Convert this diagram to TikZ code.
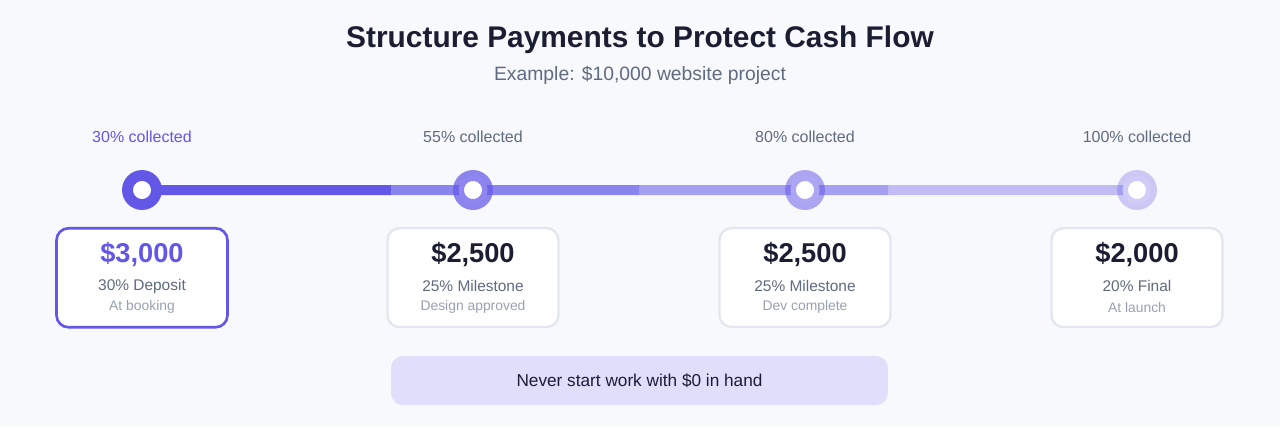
\documentclass[tikz,border=0pt]{standalone}
\usepackage{fontspec}
\setmainfont{Liberation Sans}
\usetikzlibrary{positioning, calc}
\definecolor{pagebg}{HTML}{F8F9FC}
\definecolor{accent}{HTML}{6357E8}
\definecolor{inkdark}{HTML}{1B1E33}
\definecolor{inkgray}{HTML}{5F6B80}
\definecolor{inklight}{HTML}{98A1B3}
\definecolor{cardline}{HTML}{E2E6EF}
\definecolor{bannerfill}{HTML}{E0DEFA}

\begin{document}
\begin{tikzpicture}[
  x=0.02cm, y=-0.02cm,
  dot/.style={circle, fill=white, draw=accent, draw opacity=#1, line width=6.2pt, minimum size=0.58cm, inner sep=0pt},
  bar/.style={draw=accent, draw opacity=#1, line width=5.7pt},
  card/.style={rectangle, rounded corners=6.8pt, draw=#1, fill=white, line width=1.3pt, minimum width=3.42cm, minimum height=1.98cm},
  amount/.style={font=\fontsize{15.5}{18}\selectfont\bfseries, text=#1},
  share/.style={font=\fontsize{8.8}{10}\selectfont, text=inkgray},
  when/.style={font=\fontsize{7.9}{9}\selectfont, text=inklight},
  progress/.style={font=\fontsize{9.1}{11}\selectfont, text=#1}
]
  \useasboundingbox[fill=pagebg] (0,0) rectangle (1280,427);

  % Heading
  \node[font=\fontsize{17}{20}\selectfont\bfseries, text=inkdark] (title) at (640,40) {Structure Payments to Protect Cash Flow};
  \node[font=\fontsize{11}{13}\selectfont, text=inkgray] (subtitle) at (640,75) {Example: \$10,000 website project};

  % Timeline stops
  \coordinate (d1pos) at (142,190);
  \coordinate (d4pos) at (1137,190);
  \coordinate (q1) at ($(d1pos)!0.25!(d4pos)$);
  \coordinate (q2) at ($(d1pos)!0.5!(d4pos)$);
  \coordinate (q3) at ($(d1pos)!0.75!(d4pos)$);
  \draw[bar=1] (d1pos) -- (q1);
  \draw[bar=0.72] (q1) -- (q2);
  \draw[bar=0.55] (q2) -- (q3);
  \draw[bar=0.37] (q3) -- (d4pos);

  \node[dot=1] (d1) at (d1pos) {};
  \node[dot=0.72] (d2) at (473,190) {};
  \node[dot=0.52] (d3) at (805,190) {};
  \node[dot=0.3] (d4) at (d4pos) {};

  \node[progress=accent] at ([yshift=1.06cm]d1.center) {30\% collected};
  \node[progress=inkgray] at ([yshift=1.06cm]d2.center) {55\% collected};
  \node[progress=inkgray] at ([yshift=1.06cm]d3.center) {80\% collected};
  \node[progress=inkgray] at ([yshift=1.06cm]d4.center) {100\% collected};

  % Payment cards
  \node[card=accent, line width=1.5pt, below=0.34cm of d1] (deposit) {};
  \node[amount=accent] at ([yshift=0.47cm]deposit.center) {\$3,000};
  \node[share] at ([yshift=-0.17cm]deposit.center) {30\% Deposit};
  \node[when] at ([yshift=-0.59cm]deposit.center) {At booking};

  \node[card=cardline, below=0.34cm of d2] (design) {};
  \node[amount=inkdark] at ([yshift=0.47cm]design.center) {\$2,500};
  \node[share] at ([yshift=-0.17cm]design.center) {25\% Milestone};
  \node[when] at ([yshift=-0.59cm]design.center) {Design approved};

  \node[card=cardline, below=0.34cm of d3] (dev) {};
  \node[amount=inkdark] at ([yshift=0.47cm]dev.center) {\$2,500};
  \node[share] at ([yshift=-0.17cm]dev.center) {25\% Milestone};
  \node[when] at ([yshift=-0.59cm]dev.center) {Dev complete};

  \node[card=cardline, below=0.34cm of d4] (launch) {};
  \node[amount=inkdark] at ([yshift=0.47cm]launch.center) {\$2,000};
  \node[share] at ([yshift=-0.17cm]launch.center) {20\% Final};
  \node[when] at ([yshift=-0.59cm]launch.center) {At launch};

  % Rule of thumb
  \node[rectangle, rounded corners=6.8pt, fill=bannerfill, minimum width=9.94cm, minimum height=0.98cm,
        font=\fontsize{9.8}{12}\selectfont, text=inkdark] (banner) at (639.5,380.5) {Never start work with \$0 in hand};
\end{tikzpicture}
\end{document}
